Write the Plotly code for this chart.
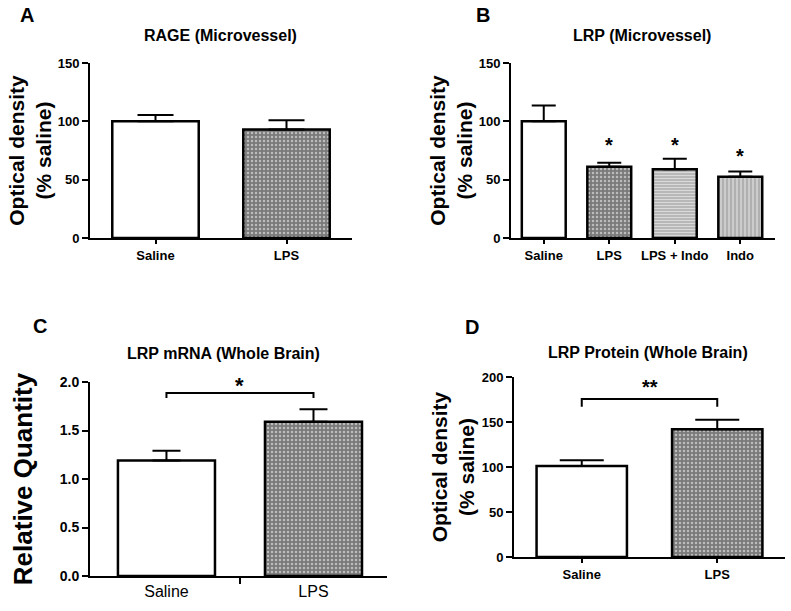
import plotly.graph_objects as go

# ---------------- data ----------------
# Panel A: RAGE (Microvessel)
a_cats = ["Saline", "LPS"]
a_vals = [100, 93]
a_err = [5.5, 8]

# Panel B: LRP (Microvessel)
b_cats = ["Saline", "LPS", "LPS + Indo", "Indo"]
b_vals = [100, 61, 59, 52.5]
b_err = [13.5, 3.5, 9, 4.5]
b_sig = ["", "*", "*", "*"]
b_sig_y = [None, 80, 80, 70]

# Panel C: LRP mRNA (Whole Brain)
c_cats = ["Saline", "LPS"]
c_vals = [1.19, 1.59]
c_err = [0.10, 0.13]
c_sig = "*"
c_bracket = [1.835, 1.887, 1.887, 1.835]
c_sig_y = 1.96

# Panel D: LRP Protein (Whole Brain)
d_cats = ["Saline", "LPS"]
d_vals = [101, 142]
d_err = [6.5, 10.5]
d_sig = "**"
d_bracket = [167, 175.5, 175.5, 167]
d_sig_y = 189

# ---------------- styles ----------------
W, H = 791, 611
FONT = "Arial, Liberation Sans, sans-serif"


def px(x):
    return x / W


def py(y):
    return 1 - y / H


PAT = {
    "Saline": dict(shape="", bgcolor="white", fgcolor="white", size=4, solidity=0.3),
    "LPS": dict(shape=".", bgcolor="#7a7a7a", fgcolor="#ffffff", size=4, solidity=0.3),
    "LPS + Indo": dict(shape="-", bgcolor="#b4b4b4", fgcolor="#ffffff", size=3, solidity=0.4),
    "Indo": dict(shape="|", bgcolor="#b0b0b0", fgcolor="#ffffff", size=4, solidity=0.35),
}


def pattern_for(cats):
    return dict(
        shape=[PAT[c]["shape"] for c in cats],
        bgcolor=[PAT[c]["bgcolor"] for c in cats],
        fgcolor=[PAT[c]["fgcolor"] for c in cats],
        size=[PAT[c]["size"] for c in cats],
        solidity=[PAT[c]["solidity"] for c in cats],
    )


def bar(cats, vals, err, xa, ya, width, capw):
    return go.Bar(
        x=cats, y=vals, width=width, xaxis=xa, yaxis=ya,
        marker=dict(color="white", line=dict(color="black", width=2.5),
                    pattern=pattern_for(cats)),
        error_y=dict(type="data", array=err, arrayminus=[0] * len(err),
                     symmetric=False, color="black", thickness=2, width=capw),
        showlegend=False, hoverinfo="x+y",
    )


fig = go.Figure()
fig.add_trace(bar(a_cats, a_vals, a_err, "x", "y", 0.66, 18))
fig.add_trace(bar(b_cats, b_vals, b_err, "x2", "y2", 0.67, 12))
fig.add_trace(bar(c_cats, c_vals, c_err, "x3", "y3", 0.66, 14))
fig.add_trace(bar(d_cats, d_vals, d_err, "x4", "y4", 0.667, 22))

# significance brackets
fig.add_trace(go.Scatter(x=[0, 0, 1, 1], y=c_bracket, xaxis="x5", yaxis="y3",
                         mode="lines", line=dict(color="black", width=2),
                         showlegend=False, hoverinfo="skip"))
fig.add_trace(go.Scatter(x=[d_cats[0], d_cats[0], d_cats[1], d_cats[1]], y=d_bracket,
                         xaxis="x4", yaxis="y4", mode="lines",
                         line=dict(color="black", width=2),
                         showlegend=False, hoverinfo="skip"))

yax_common = dict(showgrid=False, zeroline=False, showline=True, linecolor="black",
                  linewidth=2, ticks="outside", ticklen=6, tickwidth=2, tickcolor="black",
                  automargin=False,
                  tickfont=dict(family=FONT, size=13, color="black", weight="bold"))
xax_common = dict(showgrid=False, zeroline=False, showline=True, linecolor="black",
                  linewidth=2, ticks="outside", ticklen=4, tickwidth=2, tickcolor="black",
                  type="category", automargin=False,
                  tickfont=dict(family=FONT, size=13, color="black", weight="bold"))
ytitle_font = dict(family=FONT, size=21, color="black", weight="bold")

fig.update_layout(
    width=W, height=H, margin=dict(l=0, r=0, t=0, b=0),
    paper_bgcolor="white", plot_bgcolor="white", showlegend=False,
    xaxis=dict(xax_common, domain=[px(90), px(352)], anchor="y", range=[-0.5, 1.5]),
    yaxis=dict(yax_common, domain=[py(238), py(63)], anchor="x", range=[0, 150],
               tickvals=[0, 50, 100, 150],
               title=dict(text="Optical density<br>(% saline)", font=ytitle_font, standoff=0)),
    xaxis2=dict(xax_common, domain=[px(511), px(775)], anchor="y2", range=[-0.5, 3.53]),
    yaxis2=dict(yax_common, domain=[py(238), py(63)], anchor="x2", range=[0, 150],
                tickvals=[0, 50, 100, 150],
                title=dict(text="Optical density<br>(% saline)", font=ytitle_font, standoff=0)),
    xaxis3=dict(xax_common, domain=[px(90), px(387)], anchor="y3", range=[-0.52, 1.5],
                ticks="", tickfont=dict(family=FONT, size=16, color="black")),
    yaxis3=dict(yax_common, domain=[py(576), py(382)], anchor="x3", range=[0, 2.0],
                tickvals=[0, 0.5, 1.0, 1.5, 2.0], tickformat=".1f",
                tickfont=dict(family=FONT, size=14, color="black", weight="bold"),
                title=dict(text="Relative Quantity",
                           font=dict(family=FONT, size=26, color="black", weight="bold"),
                           standoff=20)),
    xaxis5=dict(overlaying="x3", anchor="y3", side="bottom", type="linear",
                range=[-0.52, 1.5], showgrid=False, zeroline=False, showline=False,
                showticklabels=False, tickmode="array", tickvals=[0.5], automargin=False,
                ticks="outside", ticklen=7, tickwidth=2, tickcolor="black"),
    xaxis4=dict(xax_common, domain=[px(514), px(785)], anchor="y4", range=[-0.5, 1.5]),
    yaxis4=dict(yax_common, domain=[py(557), py(377)], anchor="x4", range=[0, 200],
                tickvals=[0, 50, 100, 150, 200],
                title=dict(text="Optical density<br>(% saline)", font=ytitle_font, standoff=1)),
)

title_font = dict(family=FONT, size=16, color="black", weight="bold")
letter_font = dict(family=FONT, size=20, color="black", weight="bold")
anns = [
    dict(text="A", x=px(27), y=py(15), font=letter_font),
    dict(text="B", x=px(483), y=py(15), font=letter_font),
    dict(text="C", x=px(40), y=py(326), font=letter_font),
    dict(text="D", x=px(472), y=py(327), font=letter_font),
    dict(text="RAGE (Microvessel)", x=px(220), y=py(36), font=title_font),
    dict(text="LRP (Microvessel)", x=px(642), y=py(36), font=title_font),
    dict(text="LRP mRNA (Whole Brain)", x=px(223), y=py(353), font=title_font),
    dict(text="LRP Protein (Whole Brain)", x=px(648), y=py(352), font=title_font),
]
for a in anns:
    a.update(xref="paper", yref="paper", showarrow=False, xanchor="center", yanchor="middle")
    fig.add_annotation(**a)

star_font = dict(family=FONT, size=20, color="black", weight="bold")
for cat, s, yv in zip(b_cats, b_sig, b_sig_y):
    if s:
        fig.add_annotation(text=s, x=cat, y=yv, xref="x2", yref="y2", showarrow=False,
                           yanchor="middle", font=star_font)
fig.add_annotation(text=c_sig, x=0.5, y=c_sig_y, xref="x5", yref="y3", showarrow=False,
                   yanchor="middle", font=dict(family=FONT, size=22, color="black", weight="bold"))
fig.add_annotation(text=d_sig, x=0.5, y=d_sig_y, xref="x4", yref="y4", showarrow=False,
                   yanchor="middle", font=star_font)

fig.write_html("out.html", config={"displayModeBar": False},
               post_script="document.body.style.margin='0';document.body.style.overflow='hidden';")
